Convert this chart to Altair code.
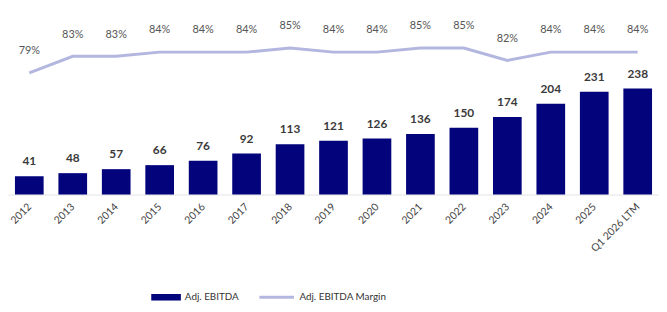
import altair as alt
import pandas as pd

years = ["2012", "2013", "2014", "2015", "2016", "2017", "2018", "2019",
         "2020", "2021", "2022", "2023", "2024", "2025", "Q1 2026 LTM"]
ebitda = [41, 48, 57, 66, 76, 92, 113, 121, 126, 136, 150, 174, 204, 231, 238]
margin = [79, 83, 83, 84, 84, 84, 85, 84, 84, 85, 85, 82, 84, 84, 84]

df = pd.DataFrame({"year": years, "ebitda": ebitda, "margin": margin})
df["mlabel"] = [f"{m}%" for m in margin]

NAVY = "#03037c"
LAV = "#b3b7df"
FONT = "Lato"

x = alt.X("year:N", sort=years, title=None,
          scale=alt.Scale(paddingInner=0.34, paddingOuter=0.16),
          axis=alt.Axis(labelAngle=-45, labelFontSize=10.5, labelColor="#444",
                        labelFont=FONT, ticks=False, domainColor="#e3e3e3",
                        labelPadding=7, labelOffset=-3))

ybar = alt.Y("ebitda:Q", scale=alt.Scale(domain=[0, 415]), axis=None)
yline = alt.Y("margin:Q", scale=alt.Scale(domain=[49.7, 94.2]), axis=None)

base = alt.Chart(df)

bars = base.mark_bar().encode(
    x=x, y=ybar,
    fill=alt.Fill("s:N", scale=alt.Scale(domain=["Adj. EBITDA"], range=[NAVY]),
                  legend=alt.Legend(title=None, orient="none", legendX=145, legendY=276,
                                    symbolType="M-1,-0.22H1V0.22H-1Z", symbolSize=900,
                                    symbolStrokeWidth=0, labelFontSize=10,
                                    labelFont=FONT, labelColor="#333")),
).transform_calculate(s="'Adj. EBITDA'")

bar_text = base.mark_text(baseline="bottom", dy=-8, fontSize=12, fontWeight="bold",
                          color="#3a3a3a", font=FONT).encode(
    x=x, y=ybar, text=alt.Text("ebitda:Q"))

line = base.mark_line(strokeWidth=3).encode(
    x=x, y=yline,
    stroke=alt.Stroke("s:N", scale=alt.Scale(domain=["Adj. EBITDA Margin"], range=[LAV]),
                      legend=alt.Legend(title=None, orient="none", legendX=253, legendY=272,
                                        symbolType="stroke", symbolSize=1225,
                                        symbolStrokeWidth=3, labelFontSize=10,
                                        labelFont=FONT, labelColor="#333")),
).transform_calculate(s="'Adj. EBITDA Margin'")

line_text = base.mark_text(baseline="middle", dy=-22, fontSize=11, color="#555",
                           font=FONT).encode(
    x=x, y=yline, text="mlabel:N")

chart = alt.layer(bars, bar_text, line, line_text).resolve_scale(
    y="independent"
).properties(
    width=659, height=187,
    autosize=alt.AutoSizeParams(type="none"),
    padding={"left": 0, "top": 0, "right": 0, "bottom": 109},
).configure_view(stroke=None)

chart.save("out.html", embed_options={"renderer": "svg", "actions": False})
